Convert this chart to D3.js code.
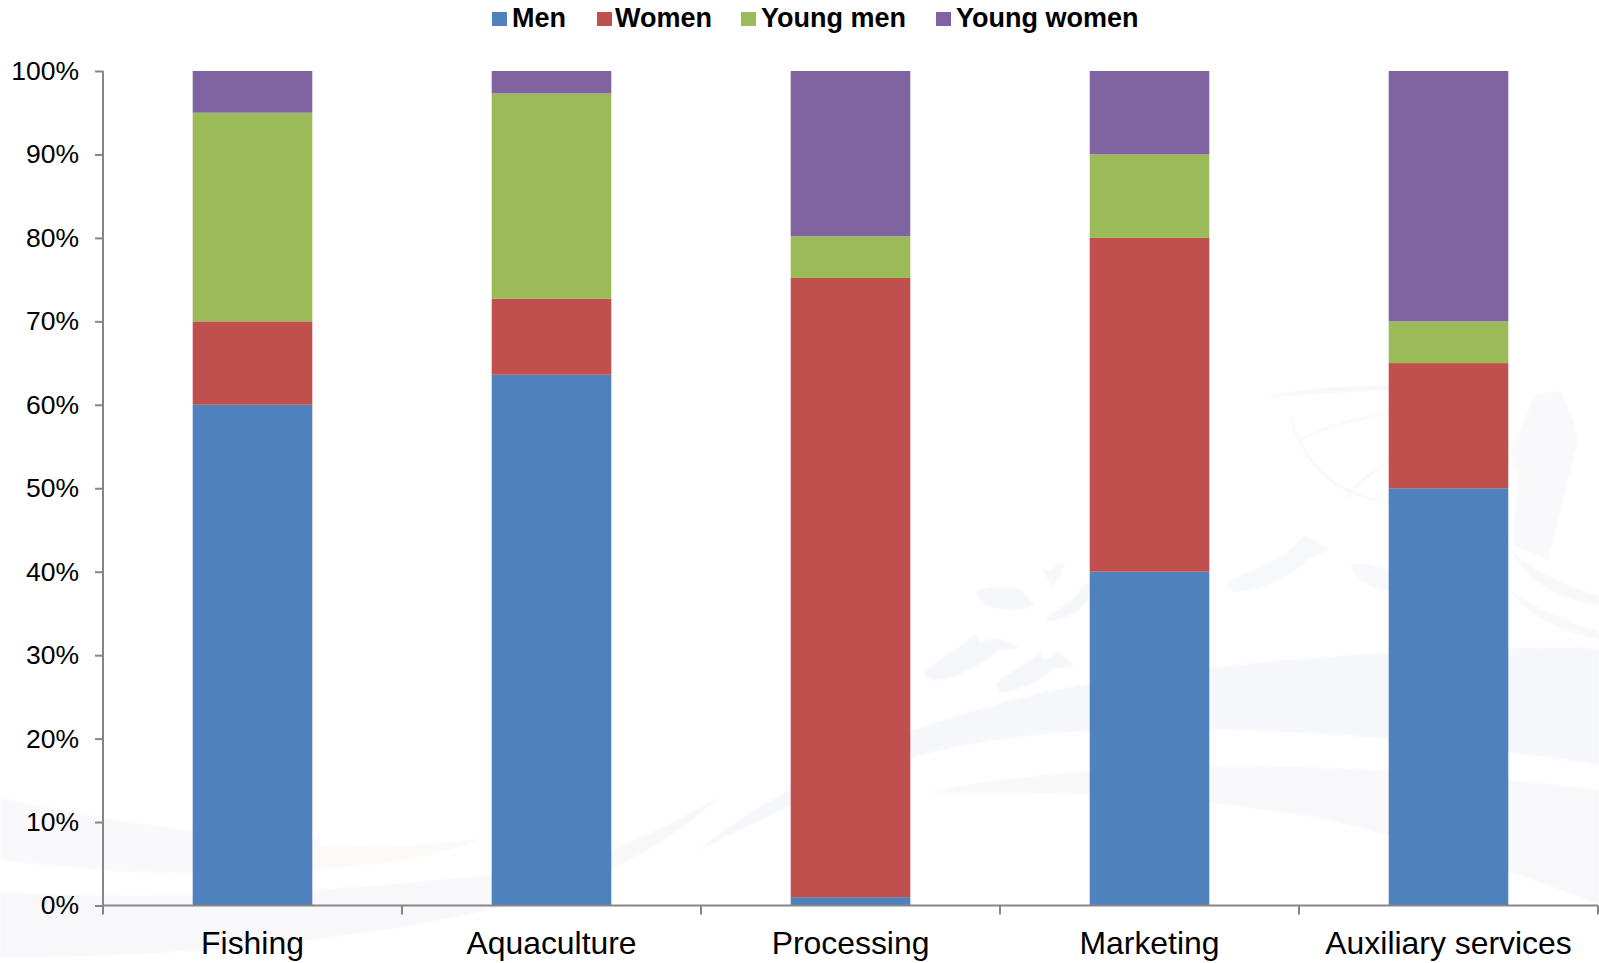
<!DOCTYPE html>
<html><head><meta charset="utf-8">
<script src="https://cdn.jsdelivr.net/npm/d3@7"></script>
<style>html,body{margin:0;padding:0;background:#fff}svg{display:block}text{font-family:"Liberation Sans",Arial,sans-serif;fill:#000}</style>
</head><body><svg id="c" width="1599" height="963"></svg>
<script>
const categories=["Fishing","Aquaculture","Processing","Marketing","Auxiliary services"];
const seriesNames=["Men","Women","Young men","Young women"];
const colors=["#4f81bd","#c0504d","#9bbb59","#8064a2"];
const men=[60,63.6,1,40,50];
const women=[10,9.1,74.2,40,15];
const youngMen=[25,24.6,5,10,5];
const youngWomen=[5,2.7,19.8,10,30];
const yTicks=[0,10,20,30,40,50,60,70,80,90,100];
const seriesValues=[men,women,youngMen,youngWomen];

const svg=d3.select("#c");
svg.append("defs").append("filter").attr("id","soft").append("feGaussianBlur").attr("stdDeviation",1.2);
// faint watermark behind the chart
const wm=svg.append("g").attr("filter","url(#soft)");
const shapes=[
 ["M0,797 C100,820 220,838 320,838 L310,868 C200,880 80,870 0,860Z","#f9f9fc"],
 ["M310,845 C370,848 430,846 486,838 C430,858 370,866 310,870Z","#fcf9f6"],
 ["M0,892 C150,900 300,895 490,875 L560,866 C620,850 680,820 720,796 C680,835 620,870 560,890 C400,940 200,955 0,958Z","#f8f8fb"],
 ["M694,853 C730,825 760,805 790,790 L900,735 C1000,700 1050,690 1100,682 C1250,660 1420,646 1599,648 V765 C1400,735 1250,725 1100,730 C1000,735 930,750 890,765 C810,795 750,825 694,853Z","#f6f7fb"],
 ["M927,793 C1000,778 1060,772 1150,768 C1300,762 1450,772 1599,790 V905 C1540,880 1450,850 1330,820 C1220,800 1100,790 927,793Z","#f8f7f9"],
 ["M975,592 C990,586 1010,584 1022,590 C1027,596 1032,600 1034,606 C1018,612 998,610 985,605Z","#f6f7fb"],
 ["M1045,620 C1056,608 1070,604 1080,590 L1090,580 L1088,600 C1075,618 1055,622 1045,620Z","#f6f7fb"],
 ["M923,672 C945,655 965,645 975,634 L980,642 C995,635 1010,640 1020,648 L998,650 C985,665 950,682 930,680Z","#f5f6fa"],
 ["M996,684 C1012,668 1030,665 1040,652 L1045,660 L1058,652 L1075,666 L1055,668 C1040,682 1015,692 1000,692Z","#f5f6fa"],
 ["M1041,566 L1048,580 L1052,590 L1060,575 L1066,562 L1056,564 L1050,572Z","#f8f8fb"],
 ["M1225,585 C1245,570 1270,565 1290,550 L1305,535 L1330,550 L1310,558 C1295,575 1260,592 1235,592Z","#f7f8fb"],
 ["M1350,565 C1370,560 1395,570 1415,590 C1390,595 1360,590 1350,565Z","#f7f8fb"],
 ["M1258,398 C1320,385 1400,382 1480,388 C1400,390 1320,392 1258,398Z","#f6f7fb"],
 ["M1535,395 L1560,390 L1575,425 L1578,440 L1566,490 L1548,560 L1512,545 L1518,480 L1510,450Z","#f9f9fc"],
 ["M1510,550 C1540,575 1575,590 1599,595 V605 C1560,600 1530,585 1510,550Z","#f8f8fb"],
 ["M1510,590 C1540,610 1575,625 1599,630 V640 C1560,630 1530,620 1510,590Z","#f9f9fc"]
];
wm.selectAll("path").data(shapes).join("path").attr("d",d=>d[0]).attr("fill",d=>d[1]);
wm.append("path").attr("d","M1290,415 C1310,490 1370,505 1420,505 M1300,440 C1350,415 1400,410 1450,410 M1345,500 C1370,465 1420,440 1470,430").attr("fill","none").attr("stroke","#f5f6fa").attr("stroke-width",2);

const x=d3.scaleBand().domain(categories).range([103,1598]).paddingInner(0.6).paddingOuter(0.3);
const y=d3.scaleLinear().domain([0,100]).range([905.5,71]);

const rows=categories.map((c,i)=>{const r={category:c};seriesNames.forEach((s,k)=>r[s]=seriesValues[k][i]);return r;});
const stacked=d3.stack().keys(seriesNames)(rows);
svg.append("g").selectAll("g").data(stacked).join("g").attr("fill",(d,i)=>colors[i])
 .selectAll("rect").data(d=>d).join("rect")
 .attr("x",d=>x(d.data.category)).attr("width",x.bandwidth())
 .attr("y",d=>y(d[1])).attr("height",d=>y(d[0])-y(d[1]));

const yAxis=svg.append("g").attr("transform","translate(103,0)")
 .call(d3.axisLeft(y).tickValues(yTicks).tickFormat(d=>d+"%").tickSize(8).tickPadding(16));
yAxis.selectAll("text").attr("font-size",26.5).attr("font-family",'"Liberation Sans"');
const xAxis=svg.append("g").attr("transform","translate(0,905.5)")
 .call(d3.axisBottom(x).tickSize(0).tickPadding(26));
xAxis.selectAll("text").attr("font-size",31.9).attr("font-family",'"Liberation Sans"');
xAxis.selectAll(".tick line").remove();
const step=x.step();
const bounds=[...categories.map(c=>x(c)+x.bandwidth()/2-step/2),x(categories[4])+x.bandwidth()/2+step/2];
xAxis.selectAll("line.b").data(bounds).join("line").attr("class","b").attr("x1",d=>d).attr("x2",d=>d).attr("y1",0).attr("y2",9).attr("stroke","#868686").attr("stroke-width",2);
svg.selectAll(".domain,.tick line").attr("stroke","#868686").attr("stroke-width",2);
xAxis.select(".domain").attr("d",`M103,0H1598`);
yAxis.select(".domain").attr("d",`M0,${y(100)}V${y(0)+8}`);

// legend
const legendX=[492,597,741,936];
const legendTextGap=[20,18,20,20];
const leg=svg.append("g").selectAll("g").data(seriesNames).join("g").attr("transform",(d,i)=>`translate(${legendX[i]},0)`);
leg.append("rect").attr("y",12).attr("width",15).attr("height",14).attr("fill",(d,i)=>colors[i]);
leg.append("text").attr("x",(d,i)=>legendTextGap[i]).attr("y",27).attr("font-size",27).attr("font-weight","bold").text(d=>d);
</script></body></html>
